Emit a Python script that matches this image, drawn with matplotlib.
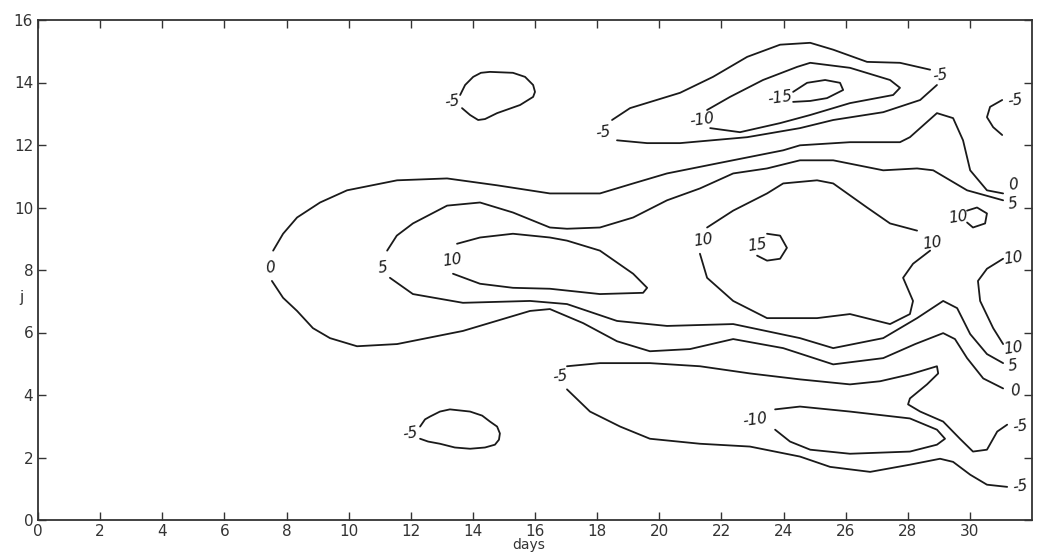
import matplotlib
matplotlib.use("Agg")
from matplotlib import pyplot as plt

# contour lines, as (day, j) points
# each entry: points of one drawn stroke (strokes stop at the hand-written labels)
c0_top = [(7.57, 8.62), (7.89, 9.16), (8.34, 9.68), (9.08, 10.16), (9.95, 10.55),
          (11.56, 10.87), (13.17, 10.93),
          (14.78, 10.71), (16.48, 10.45), (18.09, 10.45), (19.16, 10.77), (20.25, 11.09),
          (21.86, 11.41), (23.99, 11.83), (24.53, 11.99), (26.14, 12.09), (27.75, 12.09),
          (28.07, 12.25), (28.94, 13.02), (29.46, 12.86), (29.78, 12.15), (30.01, 11.19),
          (30.55, 10.55), (31.07, 10.45)]
c0_bot = [(7.53, 7.65), (7.89, 7.11), (8.34, 6.69), (8.85, 6.14), (9.40, 5.82), (10.27, 5.56),
          (11.56, 5.63),
          (13.68, 6.05), (15.84, 6.69), (16.48, 6.75), (17.55, 6.30), (18.64, 5.72),
          (19.70, 5.40), (20.99, 5.47), (22.38, 5.79), (23.99, 5.50), (25.60, 4.98),
          (27.21, 5.18), (28.24, 5.63), (29.14, 5.98), (29.52, 5.79), (29.91, 5.18),
          (30.43, 4.53), (31.07, 4.21)]
c5_top = [(11.24, 8.62), (11.55, 9.10), (12.07, 9.49), (13.17, 10.06), (14.23, 10.16),
          (15.29, 9.84),
          (16.48, 9.36), (17.03, 9.32), (18.09, 9.36), (19.16, 9.68), (20.25, 10.23),
          (21.31, 10.61), (22.38, 11.09), (23.47, 11.25), (24.53, 11.51), (25.60, 11.51),
          (27.21, 11.19), (28.30, 11.25), (28.82, 11.19), (29.91, 10.55), (31.07, 10.23)]
c5_bot = [(11.33, 7.75), (12.07, 7.23), (13.68, 6.95), (15.84, 7.01), (17.03, 6.91),
          (18.64, 6.37), (20.25, 6.21), (22.38, 6.27), (24.53, 5.82), (25.60, 5.50),
          (27.21, 5.82), (28.30, 6.46), (29.14, 7.01), (29.59, 6.78), (30.01, 5.95),
          (30.55, 5.31), (31.07, 5.02)]
c10_left = [(13.49, 8.84), (14.23, 9.04), (15.29, 9.16), (16.48, 9.04), (17.03, 8.94),
            (18.09, 8.62), (19.16, 7.88), (19.61, 7.43), (19.48, 7.27), (18.09, 7.23),
            (16.48, 7.40), (15.29, 7.43), (14.23, 7.56), (13.36, 7.88)]
c10_mid = [(28.30, 9.26), (27.43, 9.49), (26.69, 10.00), (25.60, 10.77), (25.08, 10.87),
           (23.99, 10.77), (23.47, 10.45), (22.38, 9.90), (21.54, 9.36)]
c10_mid2 = [(21.31, 8.52), (21.54, 7.75), (22.38, 7.01), (23.47, 6.46), (25.08, 6.46),
            (26.14, 6.59), (27.43, 6.27), (28.07, 6.59), (28.17, 7.01), (27.85, 7.75),
            (28.17, 8.20), (28.72, 8.62)]
c15 = [(23.47, 9.16), (23.89, 9.10), (24.11, 8.71), (23.89, 8.36), (23.47, 8.30),
       (23.15, 8.46)]
c10_small = [(29.91, 9.90), (30.23, 10.00), (30.55, 9.81), (30.49, 9.49), (30.10, 9.36),
             (29.91, 9.52)]
c10_right = [(31.07, 8.36), (30.55, 8.04), (30.26, 7.65), (30.33, 7.01), (30.75, 6.14),
             (31.07, 5.63)]
cm5_up_top = [(18.48, 12.80), (19.06, 13.18), (20.67, 13.67), (21.73, 14.18), (22.83, 14.82),
              (23.89, 15.21), (24.86, 15.27), (25.60, 15.05), (26.69, 14.66), (27.75, 14.63),
              (28.72, 14.41)]
cm5_up_bot = [(28.94, 13.92), (28.40, 13.44), (27.21, 13.05), (25.60, 12.80), (24.53, 12.54),
              (22.83, 12.25), (20.67, 12.06), (19.61, 12.06), (18.64, 12.15)]
cm10_up = [(21.54, 13.12), (22.28, 13.54), (23.34, 14.08), (24.44, 14.50), (24.86, 14.63),
           (26.14, 14.47), (27.43, 14.08), (27.75, 13.83), (27.53, 13.60), (26.14, 13.34),
           (24.86, 12.96), (23.89, 12.70), (22.60, 12.41), (21.64, 12.54)]
cm15 = [(24.31, 13.70), (24.76, 13.99), (25.34, 14.08), (25.82, 13.99), (25.92, 13.76),
        (25.40, 13.50), (24.86, 13.41), (24.31, 13.38)]
cm5_oval_up = [(13.59, 13.60), (13.75, 13.92), (14.01, 14.18), (14.26, 14.31), (14.55, 14.34),
               (15.29, 14.31), (15.68, 14.18), (15.94, 13.92), (16.00, 13.70), (15.94, 13.54),
               (15.52, 13.28), (14.78, 13.02), (14.39, 12.83), (14.17, 12.80), (13.91, 12.96),
               (13.65, 13.18)]
cm5_arc = [(31.04, 13.44), (30.65, 13.22), (30.55, 12.89), (30.75, 12.57), (31.04, 12.32)]
cm5_low_top = [(17.03, 4.92), (18.09, 5.02), (19.70, 5.02), (21.31, 4.92), (22.92, 4.69),
               (24.53, 4.50), (26.14, 4.34), (27.11, 4.44), (28.07, 4.66), (28.94, 4.92),
               (28.98, 4.69), (28.62, 4.34), (28.07, 3.89), (28.01, 3.70), (28.40, 3.47),
               (29.14, 3.15), (29.68, 2.60), (30.10, 2.19), (30.55, 2.25), (30.88, 2.83),
               (31.20, 3.05)]
cm5_low_bot = [(17.03, 4.18), (17.77, 3.47), (18.74, 2.99), (19.70, 2.60), (21.31, 2.44),
               (22.92, 2.35), (24.53, 2.03), (25.50, 1.70), (26.79, 1.54), (28.07, 1.77),
               (29.04, 1.96), (29.46, 1.86), (30.01, 1.45), (30.55, 1.13), (31.20, 1.06)]
cm10_low = [(23.73, 3.54), (24.53, 3.63), (26.14, 3.47), (28.07, 3.25), (28.94, 2.89),
            (29.20, 2.60), (28.94, 2.41), (28.07, 2.19), (26.14, 2.12), (24.86, 2.25),
            (24.21, 2.51), (23.73, 2.89)]
cm5_oval_low = [(12.30, 2.99), (12.46, 3.22), (12.62, 3.31), (12.94, 3.47), (13.26, 3.54),
                (13.91, 3.47), (14.30, 3.34), (14.55, 3.15), (14.78, 2.99), (14.87, 2.77),
                (14.84, 2.57), (14.71, 2.41), (14.39, 2.32), (13.91, 2.28), (13.42, 2.32),
                (12.94, 2.44), (12.56, 2.51), (12.30, 2.60)]

strokes = [c0_top, c0_bot, c5_top, c5_bot, c10_left, c10_mid, c10_mid2, c15, c10_small,
           c10_right, cm5_up_top, cm5_up_bot, cm10_up, cm15, cm5_oval_up, cm5_arc,
           cm5_low_top, cm5_low_bot, cm10_low, cm5_oval_low]

# contour labels: text, day, j
label_text = ["0", "5", "10", "10", "15", "10", "10", "0", "5", "10", "10", "5", "0",
              "-5", "-5", "-5", "-5", "-5", "-10", "-15", "-5", "-5", "-10", "-5"]
label_day = [7.47, 11.11, 13.33, 21.41, 23.15, 28.78, 29.62, 31.39, 31.39, 31.39, 31.39,
             31.39, 31.46, 31.62, 31.62, 29.04, 31.46, 18.19, 21.38, 23.89, 13.33, 16.81,
             23.08, 11.98]
label_j = [8.07, 8.07, 8.30, 8.94, 8.78, 8.87, 9.68, 10.71, 10.13, 8.39, 5.50, 4.92, 4.12,
           2.99, 1.06, 14.24, 13.44, 12.41, 12.80, 13.50, 13.38, 4.60, 3.22, 2.77]

x_ticks = list(range(0, 31, 2))
y_ticks = list(range(0, 17, 2))

fig = plt.figure(figsize=(10.38, 5.55), dpi=100)
ax = fig.add_axes([38 / 1038, 35 / 555, 994 / 1038, 500 / 555])

for s in strokes:
    xs = [p[0] for p in s]
    ys = [p[1] for p in s]
    ax.plot(xs, ys, color="#1a1a1a", lw=1.3, solid_joinstyle="round", solid_capstyle="round")

for t, d, j in zip(label_text, label_day, label_j):
    ax.text(d, j, t, ha="center", va="center", fontsize=11, style="italic",
            color="#1a1a1a", rotation=8)

ax.set_xlim(0, 32)
ax.set_ylim(0, 16)
ax.set_xticks(x_ticks)
ax.set_yticks(y_ticks)
ax.tick_params(direction="in", top=True, right=True, length=6, width=1.0,
               labelsize=11, colors="#333333")
ax.tick_params(axis="x", pad=3)
for sp in ax.spines.values():
    sp.set_linewidth(1.3)
    sp.set_color("#333333")

ax.set_xlabel("days", fontsize=10, color="#333333")
ax.xaxis.set_label_coords(0.494, -0.036)
ax.set_ylabel("j", fontsize=11, rotation=0, color="#333333")
ax.yaxis.set_label_coords(-0.017, 0.43)

plt.savefig("out.png", dpi=100)
